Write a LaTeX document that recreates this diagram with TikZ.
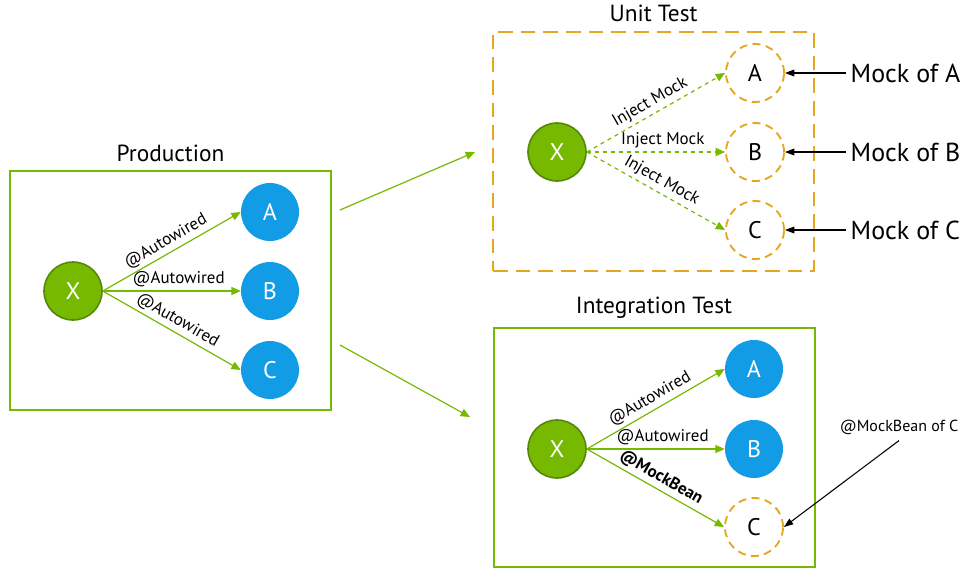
\documentclass[tikz,border=0pt]{standalone}
\usepackage{fontspec}
\setmainfont{PT Sans}
\usetikzlibrary{positioning,arrows.meta}
\definecolor{nvgreen}{RGB}{118,185,0}
\definecolor{xgreen}{RGB}{84,135,10}
\definecolor{nvblue}{RGB}{19,156,230}
\definecolor{mockorange}{RGB}{228,168,30}
\begin{document}
\begin{tikzpicture}[x=0.75pt,y=-0.75pt,
    bean/.style={circle,minimum size=43.5pt,inner sep=0pt,font=\fontsize{18}{20}\selectfont},
    xbean/.style={bean,fill=nvgreen,draw=xgreen,line width=1.2pt,text=white},
    realbean/.style={bean,fill=nvblue,text=white},
    mockbean/.style={bean,draw=mockorange,dash pattern=on 6pt off 4pt,line width=1.4pt,fill=white},
    box/.style={draw,line width=1.5pt,minimum width=240.75pt,minimum height=179.25pt,inner sep=0pt},
    title/.style={font=\fontsize{17.5}{20}\selectfont,inner sep=1pt},
    wire/.style={nvgreen,line width=0.9pt,-{Triangle[length=7pt,width=6pt]}},
    wirelabel/.style={text=black,font=\fontsize{12.7}{15}\selectfont,inner sep=2.5pt},
    note/.style={font=\fontsize{19.5}{22}\selectfont},
    pointer/.style={black,line width=0.8pt,-{Triangle[length=7pt,width=5pt]}}]
    \useasboundingbox (0,0) rectangle (977,579);
    %% boxes
    \node[box,draw=nvgreen] (prod) at (170.5,290.5) {};
    \node[box,draw=mockorange,dash pattern=on 11pt off 6pt] (unit) at (653.5,151) {};
    \node[box,draw=nvgreen] (integ) at (654,447.5) {};
    %% titles
    \node[title,above=5pt of prod] {Production};
    \node[title,above=5pt of unit] {Unit Test};
    \node[title,above=5pt of integ] {Integration Test};
    %% production
    \node[xbean] (pX) at (73,291) {X};
    \node[realbean] (pA) at (270,212) {A};
    \node[realbean] (pB) at (270,291) {B};
    \node[realbean] (pC) at (270,370) {C};
    \draw[wire] (pX.east) -- node[wirelabel,midway,sloped,above] {@Autowired} (pA.west);
    \draw[wire] (pX.east) -- node[wirelabel,pos=0.55,above] {@Autowired} (pB.west);
    \draw[wire] (pX.east) -- node[wirelabel,midway,sloped,above] {@Autowired} (pC.west);
    %% unit test
    \node[xbean] (uX) at (557,152) {X};
    \node[mockbean] (uA) at (755,73) {A};
    \node[mockbean] (uB) at (755,152) {B};
    \node[mockbean] (uC) at (755,230) {C};
    \draw[wire,dashed] (uX.east) -- node[wirelabel,midway,sloped,above] {Inject Mock} (uA.west);
    \draw[wire,dashed] (uX.east) -- node[wirelabel,pos=0.55,above] {Inject Mock} (uB.west);
    \draw[wire,dashed] (uX.east) -- node[wirelabel,midway,sloped,above] {Inject Mock} (uC.west);
    \node[note,anchor=west] (mockA) at (846,73) {Mock of A};
    \node[note,anchor=west] (mockB) at (846,152) {Mock of B};
    \node[note,anchor=west] (mockC) at (846,230) {Mock of C};
    \draw[pointer] (mockA.west) -- (uA.east);
    \draw[pointer] (mockB.west) -- (uB.east);
    \draw[pointer] (mockC.west) -- (uC.east);
    %% integration test
    \node[xbean] (iX) at (557,449) {X};
    \node[realbean] (iA) at (754,369) {A};
    \node[realbean] (iB) at (754,449) {B};
    \node[mockbean] (iC) at (754,527) {C};
    \draw[wire] (iX.east) -- node[wirelabel,midway,sloped,above] {@Autowired} (iA.west);
    \draw[wire] (iX.east) -- node[wirelabel,pos=0.55,above] {@Autowired} (iB.west);
    \draw[wire] (iX.east) -- node[wirelabel,midway,sloped,above] {\bfseries @MockBean} (iC.west);
    \node[wirelabel,font=\fontsize{12}{14}\selectfont] (mbC) at (899,427) {@MockBean of C};
    \draw[pointer] ([yshift=-2pt]mbC.south) -- (iC.east);
    %% prod to tests
    \coordinate (toUnitFrom) at (340,210);
    \coordinate (toUnitTo) at (475,152);
    \coordinate (toIntegFrom) at (340,345);
    \coordinate (toIntegTo) at (470,417);
    \draw[wire] (toUnitFrom) -- (toUnitTo);
    \draw[wire] (toIntegFrom) -- (toIntegTo);
\end{tikzpicture}
\end{document}
